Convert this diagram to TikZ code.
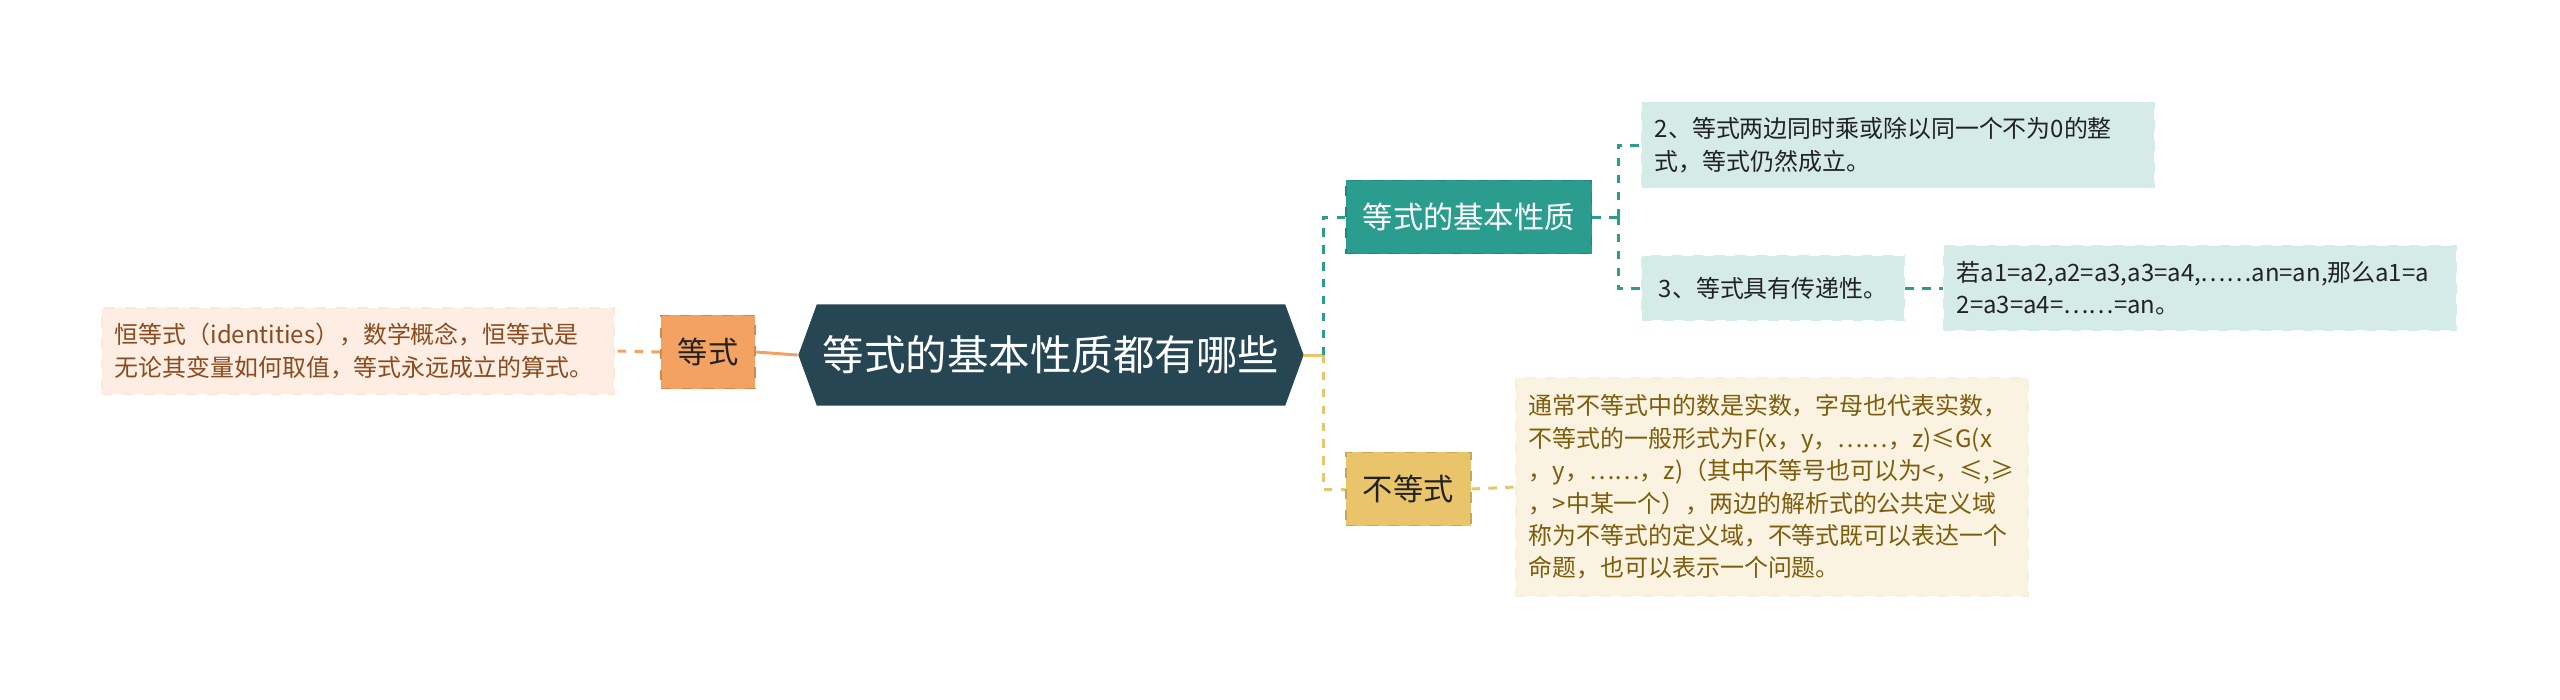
\documentclass[tikz,border=0pt]{standalone}
\usepackage{fontspec}
\setmainfont{Noto Sans CJK SC}
\usetikzlibrary{shapes.symbols}
\definecolor{deep}{HTML}{264653}
\definecolor{sea}{HTML}{2A9D8F}
\definecolor{gold}{HTML}{E9C46A}
\definecolor{peach}{HTML}{F4A261}
\definecolor{seapale}{HTML}{D5EBE8}
\definecolor{goldpale}{HTML}{FBF3E2}
\definecolor{peachpale}{HTML}{FDEDE3}
\definecolor{dark}{HTML}{222222}
\definecolor{rust}{HTML}{8A4B1F}
\definecolor{khaki}{HTML}{7D5C0B}

\begin{document}
\begin{tikzpicture}[
  x=0.01cm, y=-0.01cm,
  topic/.style={shape=signal, signal to=west and east, signal pointer angle=140,
                fill=deep, text=white, inner xsep=0.06cm, minimum height=1.01cm,
                font=\fontsize{11.8pt}{14pt}\selectfont},
  main/.style={draw, dashed, line width=0.5pt, minimum height=0.73cm, inner xsep=0.17cm,
               font=\fontsize{8.6pt}{10pt}\selectfont},
  leaf/.style={draw, dashed, line width=0.5pt, align=left, inner xsep=0.13cm, inner ysep=0.15cm,
               text=dark, font=\fontsize{6.8pt}{9.2pt}\selectfont},
  wide/.style={leaf, text width=4.86cm},
  ln/.style={line width=0.85pt, dash pattern=on 2.4pt off 2.4pt}
]
\fill[white] (0,0) rectangle (2560,699);
\useasboundingbox (0,0) rectangle (2560,699);

\node[topic] (topic) at (1051,355) {等式的基本性质都有哪些};

\node[main, fill=peach, draw=peach!85!black, text=dark] (eq) at (708,352) {等式};
\node[wide, fill=peachpale, draw=peach!25, text=rust, anchor=east] (eqtxt) at (615,351)
  {恒等式（identities），数学概念，恒等式是\\无论其变量如何取值，等式永远成立的算式。};

\node[main, fill=sea, draw=sea!85!black, text=white, anchor=west] (basic) at (1345,217) {等式的基本性质};
\node[main, fill=gold, draw=gold!85!black, text=dark, anchor=west] (ineq) at (1345,489) {不等式};

\node[wide, fill=seapale, draw=sea!20, anchor=west] (p2) at (1641,145)
  {2、等式两边同时乘或除以同一个不为0的整\\式，等式仍然成立。};
\node[leaf, fill=seapale, draw=sea!20, minimum height=0.64cm, inner xsep=0.17cm, anchor=west] (p3) at (1641,288)
  {3、等式具有传递性。};
\node[wide, fill=seapale, draw=sea!20, anchor=west] (p3b) at (1943,288)
  {若a1=a2,a2=a3,a3=a4,……an=an,那么a1=a\\2=a3=a4=……=an。};

\node[wide, fill=goldpale, draw=gold!25, text=khaki, anchor=west, inner ysep=0.17cm] (ineqtxt) at (1515,487)
  {通常不等式中的数是实数，字母也代表实数，\\不等式的一般形式为F(x，y，……，z)≤G(x\\，y，……，z)（其中不等号也可以为<，≤,≥\\，>中某一个），两边的解析式的公共定义域\\称为不等式的定义域，不等式既可以表达一个\\命题，也可以表示一个问题。};

\coordinate (jr) at (1323,355);
\coordinate (jb) at (1618,217);

\draw[peach, line width=0.85pt] (topic.west) -- (eq.east);
\draw[ln, peach] (eq.west) -- (eqtxt.east);

\draw[gold, line width=0.85pt] (topic.east) -- (jr);
\draw[ln, sea] (jr) |- (basic.west);
\draw[ln, gold] (jr) |- (ineq.west);
\draw[ln, sea] (basic.east) -- (jb);
\draw[ln, sea] (jb) |- (p2.west);
\draw[ln, sea] (jb) |- (p3.west);
\draw[ln, sea] (p3.east) -- (p3b.west);
\draw[ln, gold] (ineq.east) -- (ineqtxt.west);
\end{tikzpicture}
\end{document}
